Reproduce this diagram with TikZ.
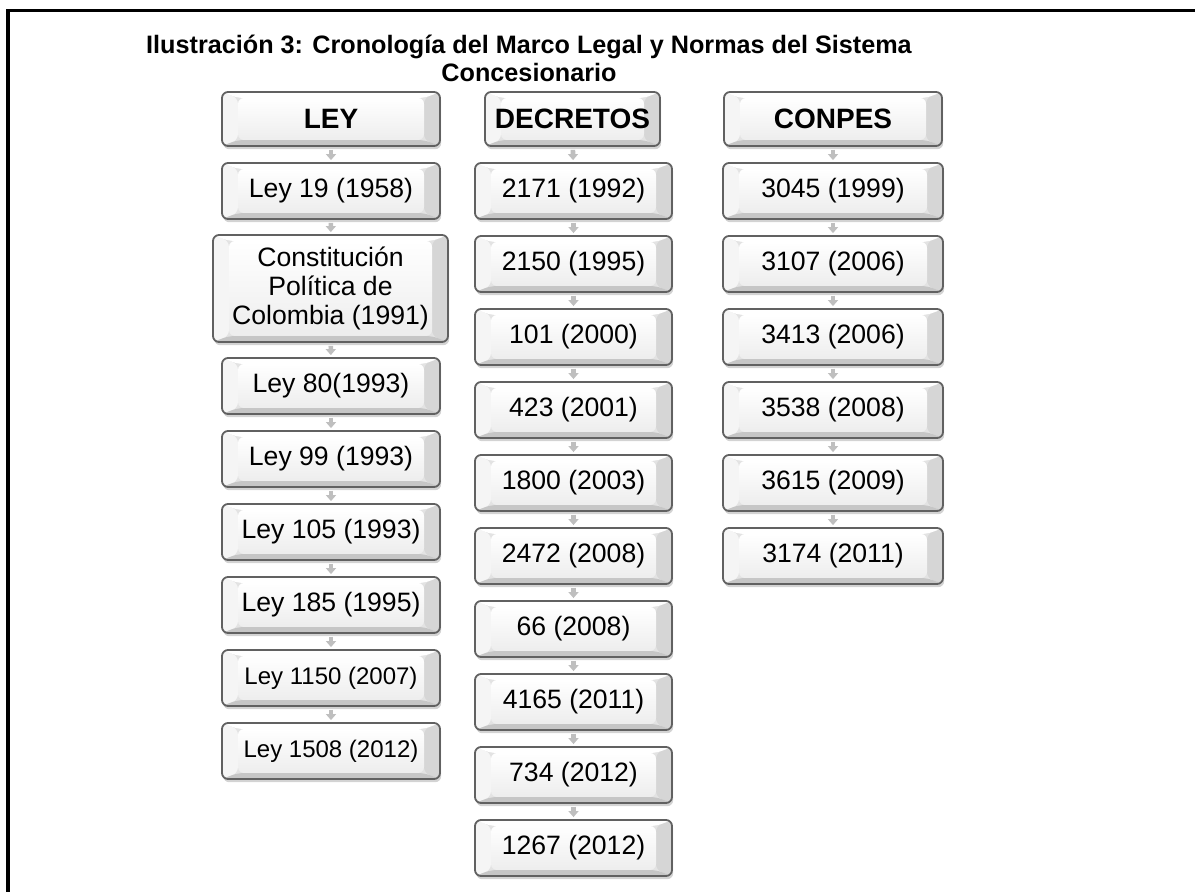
\documentclass[tikz,border=0pt]{standalone}
\usepackage{fontspec}
\setmainfont{Liberation Sans}
\usetikzlibrary{calc}
\usetikzlibrary{arrows.meta}
\usetikzlibrary{shadows}

\newcommand{\bb}{path picture bounding box}

\begin{document}
\begin{tikzpicture}[x=0.5pt,y=-0.5pt,
  caja/.style={draw=black!62, line width=0.9pt, rounded corners=3pt,
    inner sep=1pt, align=center, minimum height=28pt,
    font=\fontsize{13.3}{14.5}\selectfont,
    drop shadow={shadow xshift=0.6pt, shadow yshift=-1.6pt, opacity=0.35},
    path picture={
      \fill[gray!22] (\bb.south west) rectangle (\bb.north east);
      \fill[gray!8] (\bb.south west) -- (\bb.north west)
        -- ($(\bb.north west)+(8pt,-3pt)$) -- ($(\bb.south west)+(8pt,3pt)$) -- cycle;
      \fill[gray!32] (\bb.south east) -- (\bb.north east)
        -- ($(\bb.north east)+(-8pt,-3pt)$) -- ($(\bb.south east)+(-8pt,3pt)$) -- cycle;
      \fill[white] (\bb.north west) -- (\bb.north east)
        -- ($(\bb.north east)+(-8pt,-3pt)$) -- ($(\bb.north west)+(8pt,-3pt)$) -- cycle;
      \fill[gray!45] (\bb.south west) -- (\bb.south east)
        -- ($(\bb.south east)+(-8pt,3pt)$) -- ($(\bb.south west)+(8pt,3pt)$) -- cycle;
      \shade[top color=white, bottom color=gray!14]
        ($(\bb.south west)+(8pt,3pt)$) rectangle ($(\bb.north east)+(-8pt,-3pt)$);
    }},
  titulo/.style={caja, minimum height=27pt,
    font=\fontsize{14}{15}\selectfont\bfseries},
  flecha/.style={draw=gray!50, line width=2.3pt, shorten <=1.5pt, shorten >=1pt,
    -{Triangle[length=3pt,width=5pt]}}]

\useasboundingbox (0,0) rectangle (1195,892);

% marco
\draw[line width=1.6pt] (1195,10.5) -- (8,10.5) -- (8,892);

\node[align=center, font=\fontsize{12.6}{14}\selectfont\bfseries] (tit) at (529,58)
  {Ilustración 3: Cronología del Marco Legal y Normas del Sistema\\Concesionario};

% LEY
\node[titulo, minimum width=109pt] (ley) at (331,119) {LEY};
\node[caja, minimum width=109pt] (l1) at (331,191) {Ley 19 (1958)};
\node[caja, minimum width=117.5pt, minimum height=53.5pt] (l2) at (330.5,288.5)
  {Constitución\\Política de\\Colombia (1991)};
\node[caja, minimum width=109pt] (l3) at (331,386) {Ley 80(1993)};
\node[caja, minimum width=109pt] (l4) at (331,459) {Ley 99 (1993)};
\node[caja, minimum width=109pt] (l5) at (331,532) {Ley 105 (1993)};
\node[caja, minimum width=109pt] (l6) at (331,605) {Ley 185 (1995)};
\node[caja, minimum width=109pt, font=\fontsize{12}{14}\selectfont] (l7) at (331,678) {Ley 1150 (2007)};
\node[caja, minimum width=109pt, font=\fontsize{12}{14}\selectfont] (l8) at (331,751) {Ley 1508 (2012)};

% DECRETOS
\node[titulo, minimum width=87.5pt] (dec) at (572.5,119) {DECRETOS};
\node[caja, minimum width=98.5pt] (d1) at (573.5,191) {2171 (1992)};
\node[caja, minimum width=98.5pt] (d2) at (573.5,264) {2150 (1995)};
\node[caja, minimum width=98.5pt] (d3) at (573.5,337) {101 (2000)};
\node[caja, minimum width=98.5pt] (d4) at (573.5,410) {423 (2001)};
\node[caja, minimum width=98.5pt] (d5) at (573.5,483) {1800 (2003)};
\node[caja, minimum width=98.5pt] (d6) at (573.5,556) {2472 (2008)};
\node[caja, minimum width=98.5pt] (d7) at (573.5,629) {66 (2008)};
\node[caja, minimum width=98.5pt] (d8) at (573.5,702) {4165 (2011)};
\node[caja, minimum width=98.5pt] (d9) at (573.5,775) {734 (2012)};
\node[caja, minimum width=98.5pt] (d10) at (573.5,848) {1267 (2012)};

% CONPES
\node[titulo, minimum width=109pt] (con) at (833,119) {CONPES};
\node[caja, minimum width=110pt] (c1) at (833,191) {3045 (1999)};
\node[caja, minimum width=110pt] (c2) at (833,264) {3107 (2006)};
\node[caja, minimum width=110pt] (c3) at (833,337) {3413 (2006)};
\node[caja, minimum width=110pt] (c4) at (833,410) {3538 (2008)};
\node[caja, minimum width=110pt] (c5) at (833,483) {3615 (2009)};
\node[caja, minimum width=110pt] (c6) at (833,556) {3174 (2011)};

\foreach \a/\b in {ley/l1,l1/l2,l2/l3,l3/l4,l4/l5,l5/l6,l6/l7,l7/l8,
  dec/d1,d1/d2,d2/d3,d3/d4,d4/d5,d5/d6,d6/d7,d7/d8,d8/d9,d9/d10,
  con/c1,c1/c2,c2/c3,c3/c4,c4/c5,c5/c6}
  \draw[flecha] (\a) -- (\b);

\end{tikzpicture}
\end{document}
